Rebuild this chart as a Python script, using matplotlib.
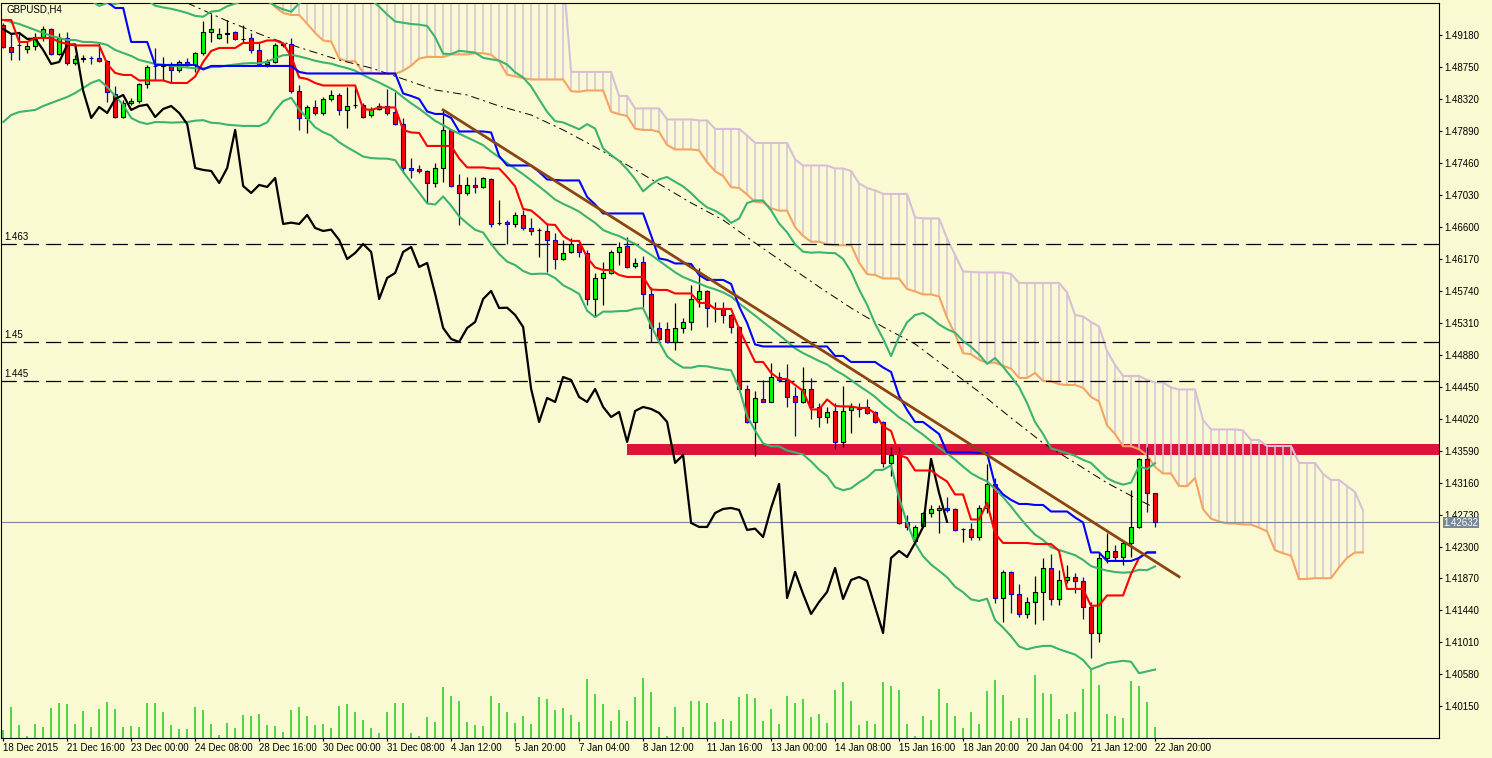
import numpy as np
import pandas as pd
import matplotlib
matplotlib.use("Agg")
import matplotlib.pyplot as plt
from matplotlib.patches import Rectangle

plt.rcParams['font.family'] = ['Liberation Sans', 'DejaVu Sans']
plt.rcParams['lines.scale_dashes'] = False

# ------------------------------------------------------------------ data
title_text = "GBPUSD,H4"

x_tick_labels = ["18 Dec 2015", "21 Dec 16:00", "23 Dec 00:00", "24 Dec 08:00",
                 "28 Dec 16:00", "30 Dec 00:00", "31 Dec 08:00", "4 Jan 12:00",
                 "5 Jan 20:00", "7 Jan 04:00", "8 Jan 12:00", "11 Jan 16:00",
                 "13 Jan 00:00", "14 Jan 08:00", "15 Jan 16:00", "18 Jan 20:00",
                 "20 Jan 04:00", "21 Jan 12:00", "22 Jan 20:00"]

y_ticks = [1.49180, 1.48750, 1.48320, 1.47890, 1.47460, 1.47030, 1.46600, 1.46170,
           1.45740, 1.45310, 1.44880, 1.44450, 1.44020, 1.43590, 1.43160, 1.42730,
           1.42300, 1.41870, 1.41440, 1.41010, 1.40580, 1.40150]

opens = [1.49315, 1.49019, 1.49046, 1.48992, 1.49032, 1.49153, 1.49261, 1.48925, 1.49140, 1.48804,
         1.48857, 1.48871, 1.48871, 1.48831, 1.48387, 1.48077, 1.48266, 1.48293, 1.48521, 1.48763,
         1.48763, 1.48763, 1.48710, 1.48817, 1.48777, 1.48938, 1.49221, 1.49140, 1.49194, 1.49221,
         1.49127, 1.49140, 1.48978, 1.48790, 1.48817, 1.49046, 1.49059, 1.48427, 1.48064, 1.48212,
         1.48131, 1.48319, 1.48373, 1.48172, 1.48239, 1.48239, 1.48104, 1.48185, 1.48225, 1.48145,
         1.47983, 1.47391, 1.47378, 1.47351, 1.47190, 1.47391, 1.47903, 1.47163, 1.47055, 1.47163,
         1.47136, 1.47244, 1.46652, 1.46665, 1.46638, 1.46759, 1.46584, 1.46558, 1.46544, 1.46423,
         1.46167, 1.46262, 1.46369, 1.46248, 1.45629, 1.45912, 1.45979, 1.46262, 1.46342, 1.46073,
         1.46127, 1.45697, 1.45239, 1.45226, 1.45051, 1.45239, 1.45320, 1.45629, 1.45737, 1.45508,
         1.45495, 1.45414, 1.45253, 1.44419, 1.43975, 1.44284, 1.44244, 1.44580, 1.44540, 1.44325,
         1.44244, 1.44419, 1.44177, 1.44042, 1.44123, 1.43706, 1.44137, 1.44163, 1.44177, 1.44110,
         1.43975, 1.43424, 1.43531, 1.42630, 1.42375, 1.42576, 1.42751, 1.42792, 1.42818, 1.42805,
         1.42536, 1.42536, 1.42428, 1.42818, 1.43141, 1.41608, 1.41958, 1.41662, 1.41393, 1.41554,
         1.41689, 1.42011, 1.41594, 1.41850, 1.41890, 1.41837, 1.41487, 1.41137, 1.42146, 1.42240,
         1.42159, 1.42348, 1.42563, 1.43478, 1.43020]

highs = [1.49342, 1.49207, 1.49221, 1.49086, 1.49207, 1.49301, 1.49274, 1.49207, 1.49221, 1.48911,
         1.48911, 1.48898, 1.49073, 1.48844, 1.48494, 1.48306, 1.48333, 1.48535, 1.48777, 1.49005,
         1.48884, 1.48817, 1.48844, 1.48871, 1.48952, 1.49369, 1.49463, 1.49274, 1.49382, 1.49234,
         1.49315, 1.49207, 1.49073, 1.48857, 1.49073, 1.49086, 1.49140, 1.48508, 1.48239, 1.48306,
         1.48346, 1.48441, 1.48400, 1.48481, 1.48467, 1.48266, 1.48212, 1.48266, 1.48454, 1.48414,
         1.48064, 1.47526, 1.47432, 1.47365, 1.47459, 1.48172, 1.47916, 1.47311, 1.47270, 1.47270,
         1.47270, 1.47257, 1.46961, 1.46692, 1.46800, 1.46827, 1.46719, 1.46584, 1.46652, 1.46517,
         1.46423, 1.46450, 1.46383, 1.46289, 1.45979, 1.46127, 1.46289, 1.46396, 1.46463, 1.46181,
         1.46208, 1.45791, 1.45320, 1.45320, 1.45576, 1.45374, 1.45818, 1.46046, 1.45751, 1.45589,
         1.45589, 1.45428, 1.45266, 1.44473, 1.44392, 1.44540, 1.44769, 1.44648, 1.44755, 1.44446,
         1.44715, 1.44567, 1.44231, 1.44177, 1.44231, 1.44459, 1.44231, 1.44231, 1.44284, 1.44123,
         1.43989, 1.43639, 1.43639, 1.42724, 1.42590, 1.42765, 1.42859, 1.42859, 1.42966, 1.42818,
         1.42549, 1.42617, 1.42859, 1.43410, 1.43222, 1.41985, 1.41971, 1.41796, 1.41621, 1.41904,
         1.42146, 1.42200, 1.41985, 1.42052, 1.41944, 1.41890, 1.41554, 1.42213, 1.42482, 1.42321,
         1.42388, 1.43061, 1.43491, 1.43639, 1.43025]

lows = [1.49005, 1.48844, 1.48844, 1.48938, 1.48978, 1.49100, 1.48911, 1.48911, 1.48777, 1.48777,
        1.48817, 1.48790, 1.48817, 1.48279, 1.48064, 1.48064, 1.48239, 1.48266, 1.48467, 1.48575,
        1.48575, 1.48548, 1.48683, 1.48750, 1.48683, 1.48911, 1.49086, 1.49127, 1.49073, 1.49113,
        1.49086, 1.48938, 1.48777, 1.48750, 1.48804, 1.49019, 1.48400, 1.47903, 1.47862, 1.48104,
        1.48104, 1.48293, 1.48104, 1.47929, 1.48198, 1.48064, 1.48077, 1.48172, 1.48104, 1.47970,
        1.47324, 1.47257, 1.47324, 1.46921, 1.47136, 1.47203, 1.47136, 1.46625, 1.47028, 1.47055,
        1.47122, 1.46598, 1.46625, 1.46369, 1.46598, 1.46558, 1.46490, 1.46194, 1.45993, 1.46033,
        1.46154, 1.46248, 1.46194, 1.45549, 1.45387, 1.45549, 1.45966, 1.46087, 1.46046, 1.46046,
        1.45522, 1.45051, 1.45038, 1.45038, 1.44944, 1.45172, 1.45213, 1.45522, 1.45253, 1.45320,
        1.45307, 1.45172, 1.44406, 1.43962, 1.43518, 1.44244, 1.44237, 1.44513, 1.44177, 1.43787,
        1.44231, 1.44015, 1.43908, 1.43962, 1.43612, 1.43639, 1.43827, 1.44042, 1.44083, 1.43962,
        1.43370, 1.43249, 1.42603, 1.42523, 1.42361, 1.42563, 1.42697, 1.42482, 1.42765, 1.42509,
        1.42361, 1.42388, 1.42388, 1.42751, 1.41541, 1.41285, 1.41406, 1.41352, 1.41339, 1.41258,
        1.41312, 1.41514, 1.41514, 1.41810, 1.41675, 1.41326, 1.40801, 1.41016, 1.42079, 1.42119,
        1.42052, 1.42159, 1.42549, 1.42765, 1.42563]

closes = [1.49019, 1.48952, 1.49039, 1.49032, 1.49153, 1.49261, 1.48925, 1.49140, 1.48804, 1.48857,
          1.48871, 1.48864, 1.48831, 1.48414, 1.48077, 1.48266, 1.48293, 1.48521, 1.48750, 1.48757,
          1.48770, 1.48710, 1.48817, 1.48777, 1.48938, 1.49221, 1.49261, 1.49194, 1.49207, 1.49127,
          1.49131, 1.48978, 1.48790, 1.48817, 1.49046, 1.49053, 1.48427, 1.48064, 1.48212, 1.48131,
          1.48319, 1.48373, 1.48172, 1.48225, 1.48243, 1.48077, 1.48185, 1.48225, 1.48131, 1.47983,
          1.47391, 1.47365, 1.47351, 1.47190, 1.47391, 1.47903, 1.47149, 1.47055, 1.47163, 1.47136,
          1.47257, 1.46638, 1.46656, 1.46638, 1.46759, 1.46584, 1.46544, 1.46562, 1.46423, 1.46167,
          1.46248, 1.46369, 1.46262, 1.45629, 1.45912, 1.45979, 1.46262, 1.46329, 1.46060, 1.46114,
          1.45697, 1.45239, 1.45091, 1.45051, 1.45239, 1.45320, 1.45629, 1.45737, 1.45508, 1.45512,
          1.45414, 1.45253, 1.44419, 1.43975, 1.44298, 1.44244, 1.44580, 1.44540, 1.44311, 1.44244,
          1.44419, 1.44177, 1.44042, 1.44110, 1.43706, 1.44123, 1.44177, 1.44150, 1.44096, 1.43975,
          1.43424, 1.43531, 1.42617, 1.42563, 1.42563, 1.42751, 1.42805, 1.42818, 1.42792, 1.42523,
          1.42540, 1.42428, 1.42818, 1.43141, 1.41608, 1.41958, 1.41662, 1.41393, 1.41554, 1.41689,
          1.42011, 1.41594, 1.41850, 1.41890, 1.41837, 1.41487, 1.41137, 1.42146, 1.42240, 1.42159,
          1.42348, 1.42563, 1.43478, 1.43020, 1.42632]

volumes = [2000, 7750, 3175, 500, 3425, 2675, 7425, 8675, 8425, 3425,
           6675, 2675, 7175, 8925, 7175, 2675, 2925, 2675, 8675, 8675,
           6425, 3175, 2175, 2175, 7675, 6925, 3425, 675, 3675, 2425,
           5675, 5425, 5925, 3175, 2925, 1425, 6925, 7675, 5425, 3175,
           3425, 2425, 7925, 8425, 6425, 4425, 2425, 1175, 6425, 8675,
           8675, 1175, 425, 5175, 3925, 12675, 10425, 9175, 3925, 3175,
           2925, 10425, 8675, 6425, 3675, 5425, 3425, 10175, 9675, 6925,
           7425, 5675, 3925, 14625, 10925, 8425, 4175, 6925, 4175, 10175,
           14925, 11425, 2675, 325, 7675, 2675, 9175, 9175, 8675, 3925,
           4675, 4175, 10175, 10925, 9925, 4175, 7175, 3425, 10425, 8675,
           9675, 5175, 5925, 3675, 11925, 13925, 9175, 3175, 4175, 3425,
           13925, 12925, 11925, 3425, 325, 5425, 4425, 12175, 8675, 5425,
           2425, 6425, 3425, 11675, 14425, 10675, 4175, 4925, 4925, 15675,
           11175, 10925, 4675, 5925, 6425, 12175, 17250, 13175, 5925, 5425,
           4925, 14175, 12925, 8925, 2675]

tenkan_early = [1.49382, 1.49382, 1.49086, 1.49086, 1.49140, 1.49140, 1.49140, 1.49086]
kijun_early = [1.50450, 1.50450, 1.50450, 1.50450, 1.50450, 1.50450, 1.50450, 1.50450,
               1.50055, 1.49913, 1.49859, 1.49859, 1.49624, 1.49624, 1.49543, 1.49543,
               1.49086, 1.49086, 1.49086, 1.48777, 1.48777, 1.48777, 1.48777, 1.48777, 1.48777]
bb_mid_early = [1.49382, 1.49355, 1.49328, 1.49288, 1.49248, 1.49207, 1.49167, 1.49140, 1.49113,
                1.49113, 1.49086, 1.49086, 1.49073, 1.49046, 1.48978, 1.48938, 1.48898, 1.48844,
                1.48817]
bb_low_early = [1.48010, 1.48104, 1.48145, 1.48158, 1.48172, 1.48225, 1.48266, 1.48306, 1.48346,
                1.48400, 1.48467, 1.48535, 1.48575, 1.48481, 1.48360, 1.48239, 1.48064, 1.48010,
                1.47983]
spanb_early = [1.50000] * 45 + [1.48683] * 6        # plotted at bars 26..76

# long moving average (dash-dot), read at bars
ma_bars = [23, 28, 33, 38, 42, 46, 50, 54, 58, 62, 66, 70, 74, 78, 82, 86, 90, 94, 98, 102,
           106, 110, 114, 118, 122, 126, 130, 134, 138, 142, 144]
ma_vals = [1.49611, 1.49369, 1.49153, 1.48978, 1.48844, 1.48736, 1.48588, 1.48441, 1.48373,
           1.48225, 1.48104, 1.47903, 1.47674, 1.47432, 1.47176, 1.46921, 1.46692, 1.46383,
           1.46087, 1.45791, 1.45508, 1.45253, 1.45024, 1.44701, 1.44379, 1.44029, 1.43693,
           1.43424, 1.43155, 1.42926, 1.42818]

level_values = [1.4637, 1.4505, 1.4453]
level_labels = ["1.463", "1.45", "1.445"]
zone_low, zone_high, zone_start_bar = 1.43531, 1.43679, 78
trend_bars = [55, 147]
trend_prices = [1.48172, 1.41894]
last_price = 1.42632

# ------------------------------------------------------------------ style
BG = '#FAFAD2'
BULL_BODY, BEAR_BODY = '#00FF00', '#FF0000'
BULL_EDGE, BEAR_EDGE = '#000000', '#0000CD'
GREEN_BB = '#3CB371'
SANDY, THISTLE = '#F4A460', '#D8BFD8'
Y_MIN, Y_MAX = 1.39731, 1.49617
VOL_AXIS_MAX = 183750

# ------------------------------------------------------------------ indicators
n = len(closes)
idx = np.arange(n)
O, Hh, Ll, C = (np.array(a, dtype=float) for a in (opens, highs, lows, closes))
Hs, Ls, Cs = pd.Series(Hh), pd.Series(Ll), pd.Series(C)

tenkan = ((Hs.rolling(9).max() + Ls.rolling(9).min()) / 2).to_numpy()
tenkan[:len(tenkan_early)] = tenkan_early
kijun = ((Hs.rolling(26).max() + Ls.rolling(26).min()) / 2).to_numpy()
kijun[:len(kijun_early)] = kijun_early

span_x = idx + 26
span_a = (tenkan + kijun) / 2
span_b_calc = ((Hs.rolling(52).max() + Ls.rolling(52).min()) / 2).to_numpy()
span_b = np.concatenate([np.array(spanb_early), span_b_calc[51:]])

bb_mid = Cs.rolling(20).mean().to_numpy()
bb_std = Cs.rolling(20).std(ddof=0).to_numpy()
bb_up = bb_mid + 2.5 * bb_std
bb_lo = bb_mid - 2.5 * bb_std
ne = len(bb_mid_early)
bb_mid[:ne] = bb_mid_early
bb_lo[:ne] = bb_low_early
bb_up[:ne] = 2 * np.array(bb_mid_early) - np.array(bb_low_early)

# ------------------------------------------------------------------ figure
W, Hpx = 1492, 758
fig = plt.figure(figsize=(W / 100, Hpx / 100), dpi=100)
fig.patch.set_facecolor(BG)
ax = fig.add_axes([0.5 / W, 20.5 / Hpx, 1438.8 / W, 735 / Hpx])
ax.set_facecolor(BG)
ax.set_xlim(-0.34, 179.54)
ax.set_ylim(Y_MIN, Y_MAX)

# zone
ax.add_patch(Rectangle((zone_start_bar, zone_low), 400, zone_high - zone_low,
                       facecolor='#DC143C', edgecolor='none', zorder=1))

# cloud hatch
hatch_cols = np.where(span_a >= span_b, SANDY, THISTLE)
ax.vlines(span_x, span_a, span_b, colors=hatch_cols, lw=1.1, zorder=1.5)
ax.plot(span_x, span_a, color=SANDY, lw=1.5, zorder=1.6)
ax.plot(span_x, span_b, color=THISTLE, lw=1.5, zorder=1.6)

# horizontal levels
for v, lab in zip(level_values, level_labels):
    ax.axhline(v, color='black', lw=0.9, dashes=(11, 5), zorder=2)
    ax.annotate(lab, xy=(0, v), xycoords=('axes fraction', 'data'), xytext=(3, 1.2),
                textcoords='offset points', ha='left', va='bottom', fontsize=7, color='black')

# current price line
ax.axhline(last_price, color='#778899', lw=0.8, zorder=2)

# volumes
vol_scale = (Y_MAX - Y_MIN) / VOL_AXIS_MAX
ax.vlines(idx, Y_MIN, Y_MIN + np.array(volumes) * vol_scale, colors='#32CD32', lw=1.2, zorder=2)

# long moving average
ax.plot(ma_bars, ma_vals, color='black', lw=0.7, linestyle=(0, (6, 3, 1.5, 3)), zorder=2.5)

# candles
bull = C >= O
edge_cols = np.where(bull, BULL_EDGE, BEAR_EDGE)
ax.vlines(idx, Ll, Hh, colors=edge_cols, lw=0.9, zorder=3)
ax.bar(idx, np.abs(C - O), bottom=np.minimum(O, C), width=0.55,
       color=np.where(bull, BULL_BODY, BEAR_BODY).tolist(), edgecolor=edge_cols.tolist(),
       linewidth=0.8, zorder=3.1)

# indicator lines
ax.plot(idx, bb_up, color=GREEN_BB, lw=1.5, zorder=4)
ax.plot(idx, bb_mid, color=GREEN_BB, lw=1.5, zorder=4)
ax.plot(idx, bb_lo, color=GREEN_BB, lw=1.5, zorder=4)
ax.plot(idx, tenkan, color='#FF0000', lw=1.5, zorder=4.2)
ax.plot(idx, kijun, color='#0000FF', lw=1.5, zorder=4.2)
ax.plot(idx[:n - 26], C[26:], color='black', lw=1.6, zorder=4.1)
ax.plot(trend_bars, trend_prices, color='#8B4513', lw=2.0, zorder=4.3)

# axes & ticks
for sp in ax.spines.values():
    sp.set_color('black')
    sp.set_linewidth(0.8)
ax.yaxis.tick_right()
ax.set_yticks(y_ticks)
ax.set_yticklabels([f"{v:.5f}" for v in y_ticks])
ax.tick_params(axis='y', direction='out', length=2, width=0.8, pad=1.5, labelsize=7, colors='black')
ax.set_xticks(np.arange(0, n, 8)[:len(x_tick_labels)])
ax.set_xticklabels(x_tick_labels)
for t in ax.get_xticklabels():
    t.set_horizontalalignment('left')
ax.tick_params(axis='x', direction='out', length=2.5, width=0.8, pad=1.5, labelsize=7, colors='black')

# last price tag
ax.annotate(f"{last_price:.5f}", xy=(1, last_price), xycoords=('axes fraction', 'data'),
            xytext=(3, -0.5), textcoords='offset points', ha='left', va='center', fontsize=7,
            color='white', annotation_clip=False, zorder=10,
            bbox=dict(boxstyle='square,pad=0.06', fc='#778899', ec='none'))

fig.text(7 / W, 1 - 10 / Hpx, title_text, ha='left', va='center', fontsize=7, color='black')

fig.savefig("out.png", dpi=100, facecolor=BG)
